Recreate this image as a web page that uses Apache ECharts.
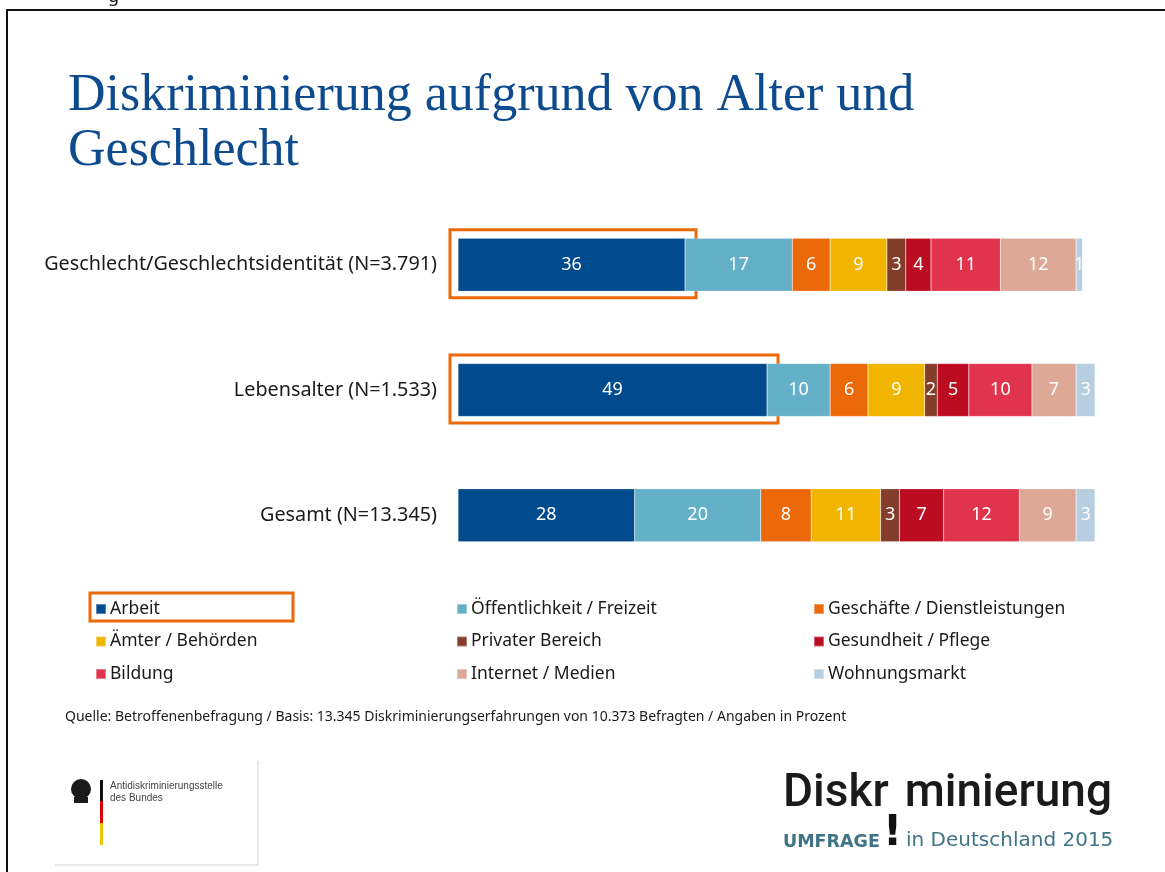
<!DOCTYPE html>
<html>
  <head>
    <meta charset="utf-8">
    <title>Diskriminierung</title>
    <style type="text/css">
    html, body {margin:0; padding:0; background:#fff;}
    #chart {width:1165px; height:872px;}
    </style>
    <script src="https://cdn.jsdelivr.net/npm/echarts@6/dist/echarts.min.js"></script>
  </head>
  <body>
    <div id="chart"></div>
    <script type="text/javascript">
      // Daten
      var categories = ['Geschlecht/Geschlechtsidentität (N=3.791)', 'Lebensalter (N=1.533)', 'Gesamt (N=13.345)'];
      var seriesNames = ['Arbeit', 'Öffentlichkeit / Freizeit', 'Geschäfte / Dienstleistungen',
                         'Ämter / Behörden', 'Privater Bereich', 'Gesundheit / Pflege',
                         'Bildung', 'Internet / Medien', 'Wohnungsmarkt'];
      var arbeit = [36, 49, 28];
      var oeffentlichkeit = [17, 10, 20];
      var geschaefte = [6, 6, 8];
      var aemter = [9, 9, 11];
      var privat = [3, 2, 3];
      var gesundheit = [4, 5, 7];
      var bildung = [11, 10, 12];
      var internet = [12, 7, 9];
      var wohnung = [1, 3, 3];
      var values = [arbeit, oeffentlichkeit, geschaefte, aemter, privat, gesundheit, bildung, internet, wohnung];
      var colors = ['#004b8d', '#64b0c8', '#eb6909', '#f1b500', '#843d2a', '#bc0c22', '#e0344c', '#dea897', '#b7cde0'];

      var chart = echarts.init(document.getElementById('chart'));

      var series = seriesNames.map(function (name, i) {
        return {
          name: name,
          type: 'bar',
          stack: 'total',
          barWidth: 53,
          itemStyle: {color: colors[i], borderColor: 'rgba(255,255,255,0.35)', borderWidth: 0.5},
          label: {show: true, position: 'inside', color: '#fff', fontSize: 18, fontFamily: 'Noto Sans'},
          data: values[i]
        };
      });

      function legendCol(names, left) {
        return {
          orient: 'vertical', left: left, top: 599, padding: 0,
          itemWidth: 10, itemHeight: 10, itemGap: 12.5,
          icon: 'rect', selectedMode: false,
          textStyle: {fontSize: 17.5, fontFamily: 'Noto Sans', color: '#1a1a1a', lineHeight: 20, padding: [0, 0, 0, -1]},
          data: names
        };
      }

      var option = {
        animation: false,
        textStyle: {fontFamily: 'Noto Sans'},
        grid: {left: 458, right: 70, top: 202, height: 376},
        xAxis: {type: 'value', min: 0, max: 101, show: false},
        yAxis: {
          type: 'category', inverse: true, data: categories,
          axisLine: {show: false}, axisTick: {show: false},
          axisLabel: {fontSize: 19.8, color: '#1a1a1a', margin: 21, fontFamily: 'Noto Sans'}
        },
        legend: [
          legendCol([seriesNames[0], seriesNames[3], seriesNames[6]], 95),
          legendCol([seriesNames[1], seriesNames[4], seriesNames[7]], 456),
          legendCol([seriesNames[2], seriesNames[5], seriesNames[8]], 813)
        ],
        series: series
      };
      chart.setOption(option);

      // Markierungen um "Arbeit" (aus den Achsen berechnet)
      function hiBox(idx) {
        var p0 = chart.convertToPixel({gridIndex: 0}, [0, idx]);
        var p1 = chart.convertToPixel({gridIndex: 0}, [arbeit[idx], idx]);
        return {
          type: 'rect',
          shape: {x: p0[0] - 8, y: p0[1] - 35, width: p1[0] - p0[0] + 19, height: 68},
          style: {fill: 'none', stroke: '#eb6909', lineWidth: 3}
        };
      }

      chart.setOption({
        graphic: [
          // Rahmen
          {type: 'rect', shape: {x: 7, y: 10, width: 1300, height: 1000}, style: {fill: 'none', stroke: '#111', lineWidth: 2}},
          {type: 'text', x: 108, y: 6, style: {text: 'g', fontSize: 18, fontFamily: 'Noto Sans', fill: '#111', verticalAlign: 'bottom'}},
          // Titel
          {type: 'text', x: 68, y: 69, style: {
            text: 'Diskriminierung aufgrund von Alter und\nGeschlecht',
            fontSize: 52, lineHeight: 55, fontFamily: 'Liberation Serif', fill: '#0d4a8e'
          }},
          hiBox(0), hiBox(1),
          {type: 'rect', shape: {x: 90, y: 593, width: 203, height: 28}, style: {fill: 'none', stroke: '#eb6909', lineWidth: 3}},
          // Quelle
          {type: 'text', x: 65, y: 710, style: {
            text: 'Quelle: Betroffenenbefragung / Basis: 13.345 Diskriminierungserfahrungen von 10.373 Befragten / Angaben in Prozent',
            fontSize: 14, fontFamily: 'Noto Sans', fill: '#1a1a1a'
          }},
          // Logo links
          {type: 'polyline', shape: {points: [[55, 865], [258, 865], [258, 761]]}, style: {stroke: '#e2e2e2', lineWidth: 1.5, fill: 'none'}},
          {type: 'circle', shape: {cx: 81, cy: 789, r: 10}, style: {fill: '#1a1a1a'}},
          {type: 'rect', shape: {x: 74, y: 797, width: 14, height: 6}, style: {fill: '#1a1a1a'}},
          {type: 'rect', shape: {x: 100, y: 780, width: 3, height: 21}, style: {fill: '#111'}},
          {type: 'rect', shape: {x: 100, y: 801, width: 3, height: 22}, style: {fill: '#d00'}},
          {type: 'rect', shape: {x: 100, y: 823, width: 3, height: 22}, style: {fill: '#f5c400'}},
          {type: 'text', x: 110, y: 780, style: {
            text: 'Antidiskriminierungsstelle\ndes Bundes', fontSize: 10, lineHeight: 12,
            fontFamily: 'Liberation Sans', fill: '#444'
          }},
          // Logo rechts
          {type: 'text', x: 783, y: 771, style: {
            text: 'Diskr', fontSize: 46, fontWeight: 500, fontFamily: 'Roboto', fill: '#1a1a1a'
          }},
          {type: 'text', x: 1112, y: 771, style: {
            text: 'minierung', fontSize: 46, fontWeight: 500, fontFamily: 'Roboto', fill: '#1a1a1a', align: 'right'
          }},
          {type: 'text', x: 783, y: 833, style: {
            text: 'UMFRAGE', fontSize: 17.5, fontWeight: 'bold', fontFamily: 'DejaVu Sans', fill: '#3f7385'
          }},
          {type: 'text', x: 883, y: 813, style: {
            text: '!', fontSize: 42, fontWeight: 'bold', fontFamily: 'DejaVu Sans', fill: '#111'
          }},
          {type: 'text', x: 906, y: 831, style: {
            text: 'in Deutschland 2015', fontSize: 20, fontFamily: 'DejaVu Sans', fill: '#3f7385'
          }}
        ]
      });
    </script>
  </body>
</html>
